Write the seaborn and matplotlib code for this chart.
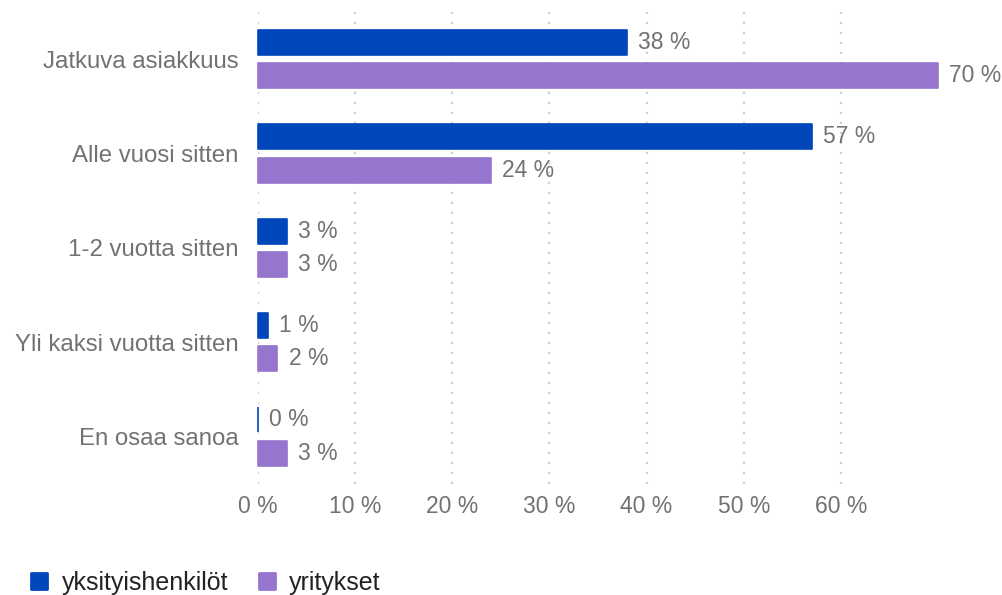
import matplotlib
matplotlib.use("Agg")
import matplotlib.pyplot as plt
from matplotlib.lines import Line2D
from matplotlib.markers import MarkerStyle
import pandas as pd
import seaborn as sns

categories = ["Jatkuva asiakkuus", "Alle vuosi sitten", "1-2 vuotta sitten",
              "Yli kaksi vuotta sitten", "En osaa sanoa"]
series_names = ["yksityishenkilöt", "yritykset"]
private_values = [38, 57, 3, 1, 0]
company_values = [70, 24, 3, 2, 3]
x_ticks = [0, 10, 20, 30, 40, 50, 60]
x_tick_labels = ["0 %", "10 %", "20 %", "30 %", "40 %", "50 %", "60 %"]
colors = ["#0047BB", "#9575CD"]

df = pd.DataFrame({
    "kategoria": categories * 2,
    "ryhmä": [series_names[0]] * len(categories) + [series_names[1]] * len(categories),
    "osuus": private_values + company_values,
})

sns.set_theme(style="white")
plt.rcParams["font.family"] = ["Liberation Sans", "DejaVu Sans"]

fig = plt.figure(figsize=(10.02, 5.95), dpi=100)
ax = fig.add_axes([0.2575, 0.187, 0.6786, 0.793])

sns.barplot(data=df, y="kategoria", x="osuus", hue="ryhmä", order=categories,
            hue_order=series_names, palette=colors, orient="h", width=0.708,
            gap=0.25, saturation=1, legend=False, zorder=3, ax=ax)

text_grey = "#727272"
fs = 16.5
for cont, vals in zip(ax.containers, [private_values, company_values]):
    for bar in cont:
        bar.set_edgecolor(bar.get_facecolor())
        bar.set_linewidth(1.2)
        bar.set_joinstyle("round")
        bar.set_clip_on(False)
    ax.bar_label(cont, labels=[f"{v} %" for v in vals], padding=8,
                 color=text_grey, fontsize=fs)

ax.set_xlim(0, 70)
ax.set_ylim(4.5, -0.5)
ax.set_xticks(x_ticks)
ax.set_xticklabels(x_tick_labels)
ax.set_xlabel("")
ax.set_ylabel("")
ax.tick_params(axis="x", length=0, pad=8, labelsize=fs, labelcolor=text_grey)
ax.tick_params(axis="y", length=0, pad=14, labelsize=17.3, labelcolor=text_grey)
for s in ax.spines.values():
    s.set_visible(False)

ax.xaxis.grid(True, color="#cfcfcf", linewidth=1.6, linestyle=(0, (1, 3.5)), zorder=0)
ax.yaxis.grid(False)
ax.set_axisbelow(True)

legend_fs = 18
handles = [Line2D([], [], marker=MarkerStyle("s", joinstyle="round"), linestyle="none",
                  markersize=11.5, markerfacecolor=c, markeredgecolor=c,
                  markeredgewidth=2)
           for c in colors]
fig.legend(handles, series_names, loc="center left", bbox_to_anchor=(0.029, 0.021),
           ncol=2, frameon=False, fontsize=legend_fs, handlelength=0.8,
           handletextpad=0.5, columnspacing=1.15, borderpad=0, borderaxespad=0,
           labelcolor="#222222")

fig.savefig("out.png", dpi=100)
